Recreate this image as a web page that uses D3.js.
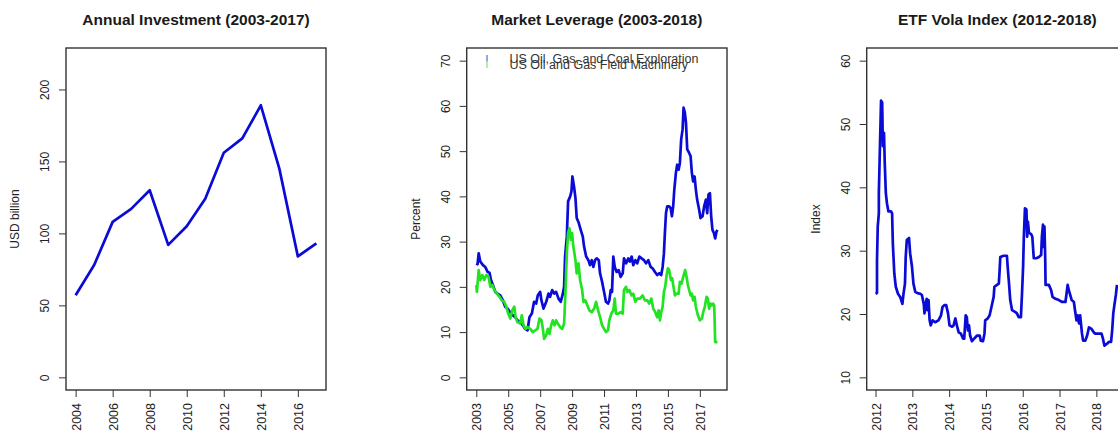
<!DOCTYPE html>
<html>
<head>
<meta charset="utf-8">
<script src="https://cdnjs.cloudflare.com/ajax/libs/d3/7.8.5/d3.min.js"></script>
<style>
  body { margin: 0; background: #fff; }
  svg text { font-family: "Liberation Sans", Arial, sans-serif; fill: #222; }
</style>
</head>
<body>
<div id="chart"></div>
<script>

// ---- panel 1: annual investment ----
var investYears = [2004, 2005, 2006, 2007, 2008, 2009, 2010, 2011, 2012, 2013, 2014, 2015, 2016, 2017]
var investValues = [57, 78, 108, 117, 130, 92, 105, 124, 156, 166, 189, 145, 84, 93]

// ---- panel 2: market leverage ----
var explorationDates = [
  2003.00, 2003.08, 2003.15, 2003.25, 2003.42, 2003.56, 2003.71, 2003.83, 2003.92,
  2004.04, 2004.19, 2004.33, 2004.50, 2004.67, 2004.81, 2004.96,
  2005.12, 2005.29, 2005.44, 2005.58, 2005.75, 2005.92,
  2006.06, 2006.21, 2006.33, 2006.48, 2006.62, 2006.75, 2006.85,
  2007.00, 2007.08, 2007.21, 2007.38, 2007.52, 2007.62, 2007.75, 2007.88,
  2008.00, 2008.15, 2008.29, 2008.42, 2008.50, 2008.56, 2008.67, 2008.75, 2008.88, 2008.96,
  2009.02, 2009.12, 2009.21, 2009.29, 2009.42, 2009.54, 2009.67, 2009.75, 2009.88,
  2010.02, 2010.12, 2010.23, 2010.33, 2010.44, 2010.54, 2010.67, 2010.75, 2010.88,
  2011.00, 2011.12, 2011.25, 2011.33, 2011.42, 2011.50, 2011.58, 2011.67, 2011.79, 2011.92,
  2012.04, 2012.17, 2012.25, 2012.38, 2012.52, 2012.62, 2012.73, 2012.83, 2012.96,
  2013.08, 2013.21, 2013.35, 2013.50, 2013.63, 2013.77, 2013.92,
  2014.04, 2014.19, 2014.33, 2014.46, 2014.58, 2014.67, 2014.75, 2014.81, 2014.88, 2014.96,
  2015.08, 2015.17, 2015.25, 2015.33, 2015.40, 2015.50, 2015.58, 2015.67, 2015.75, 2015.83, 2015.92, 2015.98,
  2016.06, 2016.13, 2016.21, 2016.33, 2016.42, 2016.50, 2016.58, 2016.67, 2016.75, 2016.83, 2016.96,
  2017.04, 2017.17, 2017.27, 2017.38, 2017.46, 2017.54, 2017.63, 2017.71, 2017.79, 2017.88, 2017.96,
  2018.04, 2018.10
]
var explorationValues = [
  25.2, 25.0, 27.4, 25.6, 24.8, 24.4, 23.3, 23.1, 21.5,
  20.4, 18.9, 18.5, 18.1, 17.0, 15.6, 15.2,
  14.4, 13.7, 13.3, 12.6, 12.2, 11.5,
  10.7, 10.4, 13.3, 14.1, 16.7, 16.3, 18.1,
  18.9, 17.0, 15.2, 16.7, 18.5, 17.8, 19.3, 18.5,
  18.9, 17.4, 16.7, 18.5, 20.0, 26.7, 31.1, 38.9, 40.0, 41.1,
  44.4, 42.2, 39.6, 35.2, 34.1, 32.6, 31.1, 28.9, 26.7,
  25.9, 24.8, 25.9, 24.4, 25.9, 26.3, 25.9, 23.0, 21.1,
  18.9, 16.7, 16.3, 17.0, 19.3, 18.9, 26.7, 24.4, 23.3, 23.7,
  22.2, 23.0, 26.3, 25.2, 26.3, 25.6, 26.7, 24.8, 25.9,
  25.2, 26.7, 26.3, 25.9, 25.2, 25.9, 24.4,
  24.1, 23.3, 22.6, 23.0, 22.6, 24.4, 27.4, 31.9, 36.3, 37.8,
  37.8, 37.4, 35.6, 37.8, 41.5, 45.2, 47.0, 45.9, 47.4, 52.6, 54.8, 59.6,
  58.5, 56.3, 50.4, 49.6, 48.9, 45.2, 43.3, 44.4, 41.5, 39.3, 37.0,
  35.2, 35.6, 37.8, 39.3, 36.3, 40.4, 40.7, 35.6, 32.6, 31.9, 30.7,
  32.2, 32.6
]

var machineryDates = [
  2003.00, 2003.04, 2003.15, 2003.25, 2003.38, 2003.50, 2003.63, 2003.77, 2003.88,
  2004.00, 2004.13, 2004.29, 2004.46, 2004.60, 2004.75, 2004.88,
  2005.00, 2005.13, 2005.25, 2005.38, 2005.46, 2005.58, 2005.75, 2005.85, 2005.96,
  2006.08, 2006.21, 2006.38, 2006.54, 2006.69, 2006.83, 2006.96,
  2007.08, 2007.17, 2007.25, 2007.38, 2007.48, 2007.58, 2007.69, 2007.79, 2007.90,
  2008.00, 2008.10, 2008.25, 2008.38, 2008.50, 2008.58, 2008.67, 2008.75, 2008.83, 2008.92,
  2009.00, 2009.08, 2009.21, 2009.29, 2009.40, 2009.50, 2009.63, 2009.71, 2009.83, 2009.96,
  2010.08, 2010.23, 2010.38, 2010.50, 2010.63, 2010.75, 2010.88,
  2011.00, 2011.13, 2011.25, 2011.33, 2011.46, 2011.58, 2011.67, 2011.75, 2011.90,
  2012.04, 2012.17, 2012.25, 2012.38, 2012.46, 2012.58, 2012.73, 2012.83, 2012.96,
  2013.08, 2013.25, 2013.42, 2013.56, 2013.71, 2013.83, 2013.96,
  2014.08, 2014.21, 2014.33, 2014.42, 2014.50, 2014.58, 2014.67, 2014.75, 2014.83, 2014.92,
  2015.00, 2015.08, 2015.19, 2015.27, 2015.35, 2015.44, 2015.54, 2015.67, 2015.75, 2015.85, 2015.96,
  2016.08, 2016.17, 2016.25, 2016.33, 2016.42, 2016.50, 2016.58, 2016.67, 2016.75, 2016.88,
  2017.00, 2017.13, 2017.21, 2017.31, 2017.42, 2017.50, 2017.58, 2017.67, 2017.75, 2017.83, 2017.90, 2017.96,
  2018.10
]
var machineryValues = [
  20.4, 18.9, 23.7, 21.5, 22.6, 21.5, 22.6, 22.2, 20.0,
  20.4, 19.3, 18.5, 17.8, 17.0, 16.7, 15.6,
  14.1, 13.0, 14.8, 15.6, 13.3, 12.2, 11.9, 13.7, 11.5,
  10.7, 11.1, 10.7, 10.0, 10.4, 10.7, 13.0,
  12.6, 10.7, 8.5, 9.3, 10.7, 9.6, 11.5, 12.6, 11.5,
  12.6, 11.9, 11.1, 10.7, 11.9, 18.5, 27.4, 31.9, 33.0, 30.4,
  31.9, 28.9, 25.9, 23.0, 25.2, 21.5, 19.3, 16.7, 17.0, 15.9,
  14.8, 14.4, 15.2, 16.7, 14.8, 13.3, 11.5,
  10.7, 10.0, 10.4, 12.6, 14.1, 14.8, 17.4, 14.1, 14.1,
  14.4, 14.1, 19.3, 20.0, 18.9, 19.3, 18.1, 18.5, 16.7,
  17.4, 17.4, 18.1, 17.0, 17.0, 16.3, 17.4,
  15.2, 14.4, 13.3, 14.8, 12.6, 14.4, 15.6, 18.9, 20.0, 22.6,
  24.1, 23.7, 21.5, 21.9, 20.0, 18.1, 18.5, 18.5, 21.1, 20.7, 22.2,
  23.7, 22.2, 20.4, 19.3, 18.1, 18.5, 17.0, 17.8, 15.6, 13.7,
  12.6, 13.0, 14.4, 15.6, 17.8, 17.4, 15.2, 16.3, 15.9, 16.3, 15.9, 7.8,
  7.8
]
var leverageLegend = ["US Oil, Gas, and Coal Exploration", "US Oil and Gas Field Machinery"]

// ---- panel 3: ETF vola index ----
var volaDates = [
  2012.00, 2012.04, 2012.04, 2012.06, 2012.09, 2012.09, 2012.12, 2012.15, 2012.18, 2012.20,
  2012.23, 2012.25, 2012.28, 2012.31, 2012.35, 2012.42, 2012.45, 2012.47, 2012.51, 2012.55,
  2012.61, 2012.67, 2012.73, 2012.76, 2012.80, 2012.82, 2012.85, 2012.91, 2012.94, 2012.99,
  2013.03, 2013.08, 2013.14, 2013.21, 2013.26, 2013.31, 2013.33, 2013.36, 2013.39, 2013.41,
  2013.44, 2013.47, 2013.50, 2013.55, 2013.62, 2013.71, 2013.78, 2013.82, 2013.87, 2013.92, 2013.97,
  2014.01, 2014.08, 2014.12, 2014.17, 2014.21, 2014.26, 2014.32, 2014.38, 2014.41, 2014.45, 2014.48,
  2014.51, 2014.54, 2014.57, 2014.62, 2014.68, 2014.76, 2014.83, 2014.86, 2014.92, 2014.96, 2014.98,
  2015.05, 2015.10, 2015.15, 2015.21, 2015.23, 2015.30, 2015.35, 2015.37, 2015.39, 2015.48,
  2015.57, 2015.59, 2015.63, 2015.66, 2015.71, 2015.80, 2015.84, 2015.89, 2015.95, 2015.98,
  2016.01, 2016.03, 2016.06, 2016.10, 2016.12, 2016.14, 2016.17, 2016.23, 2016.26, 2016.30, 2016.37, 2016.44,
  2016.50, 2016.52, 2016.55, 2016.57, 2016.59, 2016.61, 2016.62, 2016.71, 2016.77, 2016.81, 2016.89, 2016.98,
  2017.07, 2017.16, 2017.19, 2017.22, 2017.25, 2017.28, 2017.33, 2017.39, 2017.42, 2017.46, 2017.49,
  2017.53, 2017.56, 2017.61, 2017.64, 2017.70, 2017.75, 2017.80, 2017.86, 2017.93, 2017.97,
  2018.06, 2018.14, 2018.18, 2018.22, 2018.29, 2018.34, 2018.40, 2018.43, 2018.46, 2018.49, 2018.53, 2018.56
]
var volaValues = [
  23.2, 23.3, 28.5, 33.8, 35.9, 39.1, 46.5, 53.7, 53.4, 46.5,
  48.6, 43.9, 39.1, 37.5, 36.2, 36.2, 35.9, 31.2, 26.4, 24.3,
  23.2, 22.7, 21.6, 23.2, 24.8, 29.0, 31.7, 32.0, 29.6, 27.5,
  24.8, 23.5, 23.3, 23.2, 23.0, 21.6, 20.1, 21.4, 22.4, 20.6,
  22.2, 19.0, 18.2, 19.0, 18.7, 19.0, 19.8, 21.1, 21.4, 21.4, 20.1,
  18.2, 18.0, 18.2, 19.3, 18.2, 17.1, 16.9, 16.1, 16.1, 19.8, 19.5,
  17.4, 18.2, 16.6, 15.7, 16.1, 16.6, 16.6, 15.8, 15.7, 16.9, 19.0,
  19.3, 19.8, 21.1, 22.7, 24.3, 24.6, 24.8, 26.7, 29.0, 29.2,
  29.2, 27.5, 24.6, 22.2, 20.6, 20.3, 20.1, 19.5, 19.5, 23.2,
  27.5, 32.2, 36.7, 36.5, 32.2, 34.6, 32.8, 32.6, 32.2, 28.8, 28.8, 29.0,
  29.3, 32.2, 34.1, 30.6, 33.8, 29.0, 24.6, 24.6, 23.8, 22.7, 22.4, 22.2,
  21.9, 21.9, 23.2, 24.6, 23.8, 23.2, 22.2, 21.9, 20.6, 19.0, 19.8,
  18.5, 19.8, 16.9, 15.8, 15.8, 16.6, 17.9, 17.7, 17.1, 16.9,
  16.9, 16.9, 16.1, 15.0, 15.3, 15.6, 15.6, 17.4, 20.1, 21.4, 23.0, 24.6
]

var blue = "#0b0bd6"
var green = "#22e322"

var svg = d3.select("#chart").append("svg")
.attr("width", 1118)
.attr("height", 437)

var boxTop = 48
var boxBottom = 390

function drawPanel(p)
{
  var x = d3.scaleLinear().domain(p.xDomain).range([p.left, p.right])
  var y = d3.scaleLinear().domain(p.yDomain).range([boxBottom, boxTop])
  var g = svg.append("g")

  // title
  g.append("text")
  .attr("x", (p.left + p.right) / 2)
  .attr("y", 25)
  .attr("text-anchor", "middle")
  .style("font-size", "15.5px")
  .style("font-weight", "bold")
  .style("fill", "#1a1a1a")
  .text(p.title)

  // y axis label
  g.append("text")
  .attr("transform", "translate(" + (p.left - 47) + "," + ((boxTop + boxBottom) / 2) + ") rotate(-90)")
  .attr("text-anchor", "middle")
  .style("font-size", "12px")
  .text(p.ylab)

  // y axis
  var yAxis = g.append("g")
  .attr("transform", "translate(" + p.left + ",0)")
  .call(d3.axisLeft(y).tickValues(p.yTicks).tickSize(7).tickFormat(d3.format("d")))
  yAxis.select(".domain").remove()
  yAxis.selectAll("line").attr("stroke", "#333").attr("stroke-width", 1)
  yAxis.selectAll("text")
  .attr("transform", "rotate(-90)")
  .attr("x", 0)
  .attr("y", -17)
  .attr("dy", 0)
  .style("text-anchor", "middle")
  .style("font-size", "12px")
  .style("font-family", "Liberation Sans, Arial, sans-serif")
  .attr("fill", "#222")

  // x axis
  var xAxis = g.append("g")
  .attr("transform", "translate(0," + boxBottom + ")")
  .call(d3.axisBottom(x).tickValues(p.xTicks).tickSize(7).tickFormat(d3.format("d")))
  xAxis.select(".domain").remove()
  xAxis.selectAll("line").attr("stroke", "#333").attr("stroke-width", 1)
  xAxis.selectAll("text")
  .attr("transform", "rotate(-90)")
  .attr("x", -13)
  .attr("y", 4.5)
  .attr("dy", 0)
  .style("text-anchor", "end")
  .style("font-size", "12.5px")
  .style("font-family", "Liberation Sans, Arial, sans-serif")
  .attr("fill", "#222")

  // series
  var line = d3.line()
  .x(function(d) { return x(d[0]) })
  .y(function(d) { return y(d[1]) })

  p.series.forEach(function(s)
  {
    g.append("path")
    .datum(d3.zip(s.dates, s.values))
    .attr("d", line)
    .attr("fill", "none")
    .attr("stroke", s.color)
    .attr("stroke-width", 2.7)
    .attr("stroke-linejoin", "round")
  })

  // frame
  g.append("rect")
  .attr("x", p.left)
  .attr("y", boxTop)
  .attr("width", p.right - p.left)
  .attr("height", boxBottom - boxTop)
  .attr("fill", "none")
  .attr("stroke", "#333")
  .attr("stroke-width", 1.4)

  return g
}

drawPanel({
  title: "Annual Investment (2003-2017)",
  ylab: "USD billion",
  left: 66, right: 326,
  xDomain: [2003.48, 2017.52],
  yDomain: [-8.8, 228.8],
  xTicks: d3.range(2004, 2017, 2),
  yTicks: d3.range(0, 201, 50),
  series: [{dates: investYears, values: investValues, color: blue}]
})

var lev = drawPanel({
  title: "Market Leverage (2003-2018)",
  ylab: "Percent",
  left: 466.7, right: 727,
  xDomain: [2002.4, 2018.7],
  yDomain: [-2.8, 72.8],
  xTicks: d3.range(2003, 2018, 2),
  yTicks: d3.range(0, 71, 10),
  series: [
    {dates: explorationDates, values: explorationValues, color: blue},
    {dates: machineryDates, values: machineryValues, color: green}
  ]
})

// legend (rows overlap, as in the original)
var legColors = [blue, green]
leverageLegend.forEach(function(t, i)
{
  lev.append("line")
  .attr("x1", 487).attr("x2", 487)
  .attr("y1", 55 + i * 6.5).attr("y2", 61.5 + i * 6.5)
  .attr("stroke", legColors[i])
  .attr("stroke-width", 1.3)
  .attr("opacity", 0.6)

  lev.append("text")
  .attr("x", 509.5)
  .attr("y", 62.5 + i * 6.8)
  .style("font-size", "12.5px")
  .style("fill", "#333")
  .text(t)
})

drawPanel({
  title: "ETF Vola Index (2012-2018)",
  ylab: "Index",
  left: 866.7, right: 1128,
  xDomain: [2011.76, 2018.86],
  yDomain: [8, 62],
  xTicks: d3.range(2012, 2019, 1),
  yTicks: d3.range(10, 61, 10),
  series: [{dates: volaDates, values: volaValues, color: blue}]
})

</script>
</body>
</html>
